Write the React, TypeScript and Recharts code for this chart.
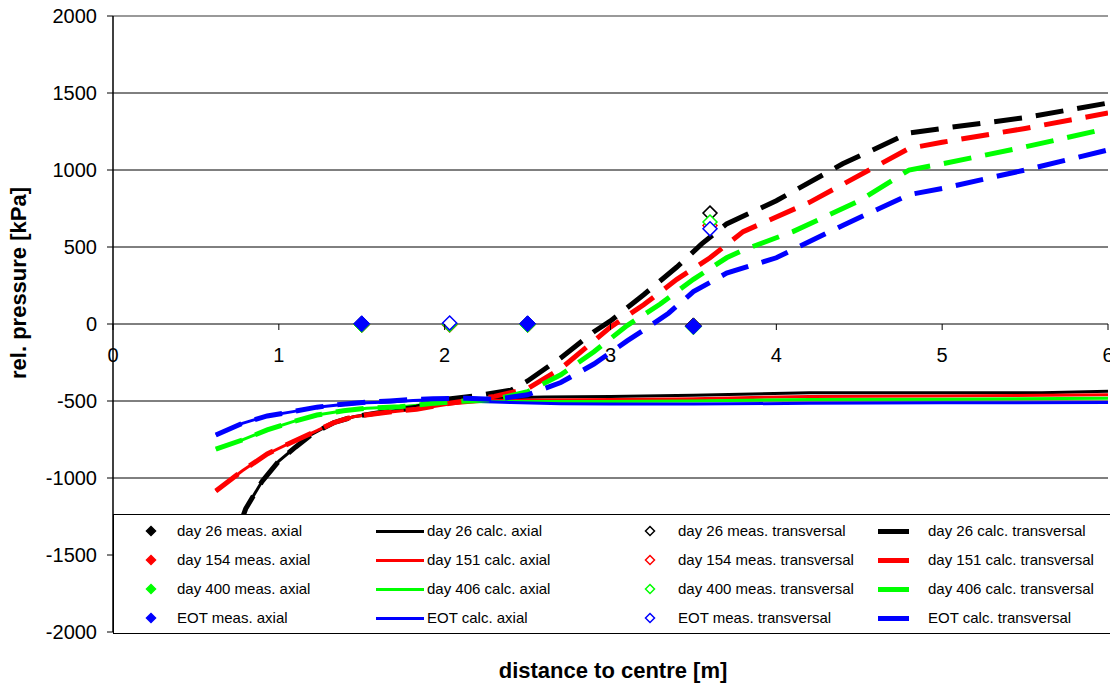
import React from "react";
import {
  ComposedChart,
  Line,
  Scatter,
  XAxis,
  YAxis,
  CartesianGrid,
  ReferenceLine,
} from "recharts";

// series colours: day 26, day 151/154, day 400/406, EOT
const colors = ["#000000", "#ff0000", "#00ff00", "#0000ff"];

const yTicks = [-2000, -1500, -1000, -500, 0, 500, 1000, 1500, 2000];
const xTicks = [0, 1, 2, 3, 4, 5, 6];

// measured, axial (filled diamonds)
const measAxialX = [1.5, 2.5, 3.5];
const measAxialDay26 = [0, 0, -12];
const measAxialDay154 = [-4, -4, -16];
const measAxialDay400 = [-4, -4, -18];
const measAxialEOT = [2, 2, -15];

// measured, transversal (hollow diamonds)
const measTransX = [2.03, 3.6];
const measTransDay26 = [0, 720];
const measTransDay154 = [-6, 640];
const measTransDay400 = [-4, 662];
const measTransEOT = [6, 618];

// calculated, axial (solid lines)
const calcAxialDay26X = [0.62, 0.7, 0.8, 0.9, 1.0, 1.1, 1.2, 1.33, 1.45, 1.63, 1.83, 2.0, 2.3, 2.6, 3.0, 3.5, 4.2, 5.0, 5.6, 6.0];
const calcAxialDay26 = [-1800, -1500, -1200, -1020, -890, -800, -715, -641, -602, -572, -545, -505, -480, -474, -470, -462, -447, -447, -446, -437];
const calcAxialDay151X = [0.62, 0.78, 0.93, 1.085, 1.23, 1.33, 1.45, 1.63, 1.83, 2.03, 2.3, 2.6, 3.0, 3.5, 4.2, 5.0, 6.0];
const calcAxialDay151 = [-1084, -953, -844, -764, -693, -641, -602, -576, -553, -519, -495, -493, -490, -485, -470, -468, -460];
const calcAxialDay406X = [0.62, 0.78, 0.93, 1.085, 1.23, 1.39, 1.53, 1.73, 1.93, 2.13, 2.4, 2.7, 3.0, 3.5, 4.2, 5.0, 6.0];
const calcAxialDay406 = [-813, -753, -688, -634, -591, -563, -547, -537, -519, -505, -503, -504, -503, -500, -490, -488, -482];
const calcAxialEOTX = [0.62, 0.78, 0.93, 1.085, 1.23, 1.37, 1.53, 1.67, 1.81, 1.93, 2.13, 2.4, 2.7, 3.0, 3.5, 4.2, 5.0, 6.0];
const calcAxialEOT = [-721, -645, -597, -569, -540, -525, -511, -506, -497, -492, -500, -510, -518, -520, -520, -515, -512, -510];

// calculated, transversal (dashed lines)
const calcTransDay26X = [0.62, 0.7, 0.8, 0.9, 1.0, 1.1, 1.2, 1.33, 1.45, 1.63, 1.83, 2.0, 2.2, 2.4, 2.5, 2.7, 2.9, 3.0, 3.2, 3.4, 3.55, 3.7, 4.0, 4.4, 4.8, 5.0, 5.5, 6.0];
const calcTransDay26 = [-1800, -1500, -1200, -1020, -890, -800, -715, -641, -602, -572, -540, -490, -465, -430, -370, -220, -50, 20, 190, 370, 520, 650, 800, 1040, 1240, 1270, 1340, 1435];
const calcTransDay151X = [0.62, 0.78, 0.93, 1.085, 1.23, 1.33, 1.45, 1.63, 1.83, 2.03, 2.3, 2.5, 2.7, 2.9, 3.0, 3.2, 3.4, 3.6, 3.8, 4.2, 4.8, 5.0, 5.5, 6.0];
const calcTransDay151 = [-1084, -953, -844, -764, -693, -641, -602, -576, -553, -515, -470, -420, -290, -110, -20, 125, 290, 430, 600, 790, 1140, 1180, 1270, 1370];
const calcTransDay406X = [0.62, 0.78, 0.93, 1.085, 1.23, 1.39, 1.53, 1.73, 1.93, 2.13, 2.3, 2.5, 2.7, 2.9, 3.1, 3.3, 3.5, 3.7, 3.8, 4.1, 4.5, 4.8, 5.0, 5.5, 6.0];
const calcTransDay406 = [-813, -753, -688, -634, -591, -563, -547, -537, -515, -500, -490, -440, -330, -180, -10, 130, 290, 430, 480, 600, 800, 1000, 1040, 1150, 1270];
const calcTransEOTX = [0.62, 0.78, 0.93, 1.085, 1.23, 1.37, 1.53, 1.67, 1.81, 1.93, 2.13, 2.3, 2.5, 2.7, 2.9, 3.1, 3.2, 3.35, 3.5, 3.7, 4.0, 4.4, 4.8, 5.0, 5.5, 6.0];
const calcTransEOT = [-721, -645, -597, -569, -540, -522, -508, -500, -490, -485, -482, -490, -460, -380, -260, -110, -40, 70, 210, 330, 430, 640, 840, 880, 1000, 1130];

const legendRows = [
  ["day 26 meas. axial", "day 26 calc. axial", "day 26 meas. transversal", "day 26 calc. transversal"],
  ["day 154 meas. axial", "day 151 calc. axial", "day 154 meas. transversal", "day 151 calc. transversal"],
  ["day 400 meas. axial", "day 406 calc. axial", "day 400 meas. transversal", "day 406 calc. transversal"],
  ["EOT meas. axial", "EOT calc. axial", "EOT meas. transversal", "EOT calc. transversal"],
];

const zip = (xs: number[], ys: number[]) => xs.map((x, i) => ({ x, y: ys[i] }));

const measAxial = [measAxialDay26, measAxialDay154, measAxialDay400, measAxialEOT].map((ys) => zip(measAxialX, ys));
const measTrans = [measTransDay26, measTransDay154, measTransDay400, measTransEOT].map((ys) => zip(measTransX, ys));
const calcAxial = [
  zip(calcAxialDay26X, calcAxialDay26),
  zip(calcAxialDay151X, calcAxialDay151),
  zip(calcAxialDay406X, calcAxialDay406),
  zip(calcAxialEOTX, calcAxialEOT),
];
const calcTrans = [
  zip(calcTransDay26X, calcTransDay26),
  zip(calcTransDay151X, calcTransDay151),
  zip(calcTransDay406X, calcTransDay406),
  zip(calcTransEOTX, calcTransEOT),
];

const FONT = "'Liberation Sans', Arial, sans-serif";
const TOP = 16;
const PLOT_H = 616;
const ZERO_Y = TOP + PLOT_H / 2;

const diamond = (color: string, filled: boolean, r: number) => (props: any) => {
  const { cx, cy } = props;
  if (cx == null || cy == null) return <g />;
  return (
    <polygon
      points={`${cx},${cy - r} ${cx + r},${cy} ${cx},${cy + r} ${cx - r},${cy}`}
      fill={filled ? color : "#fff"}
      stroke={color}
      strokeWidth={filled ? 1 : 1.5}
    />
  );
};

const XTick = ({ x, payload }: any) => (
  <g>
    <line x1={x} x2={x} y1={ZERO_Y} y2={ZERO_Y + 6} stroke="#000" strokeWidth={1} />
    <text x={x} y={ZERO_Y + 38} textAnchor="middle" fontSize={20} fontFamily={FONT} fill="#000">
      {payload.value}
    </text>
  </g>
);

const LegendMarker = ({ col, color }: { col: number; color: string }) => {
  if (col === 0 || col === 2) {
    return (
      <svg width={12} height={12} style={{ display: "block" }}>
        <polygon
          points="6,1.5 10.5,6 6,10.5 1.5,6"
          fill={col === 0 ? color : "#fff"}
          stroke={color}
          strokeWidth={1.5}
        />
      </svg>
    );
  }
  const w = col === 1 ? 48 : 31;
  const h = col === 1 ? 3 : 5;
  return <div style={{ width: w, height: h, background: color }} />;
};

const markerX = [150, 399, 649, 892];
const textX = [176, 426, 677, 927];

const App = () => {
  return (
    <div style={{ position: "absolute", left: 0, top: 0, width: 1120, height: 684, fontFamily: FONT, background: "#fff" }}>
      <ComposedChart width={1120} height={684} margin={{ top: TOP, right: 12, bottom: 0, left: 0 }}>
        <CartesianGrid horizontal vertical={false} stroke="#000" strokeWidth={1} />
        <XAxis
          dataKey="x"
          type="number"
          domain={[0, 6]}
          ticks={xTicks}
          axisLine={false}
          tickLine={false}
          height={52}
          tick={<XTick />}
          interval={0}
          allowDataOverflow
        />
        <YAxis
          dataKey="y"
          type="number"
          domain={[-2000, 2000]}
          ticks={yTicks}
          width={113}
          axisLine={{ stroke: "#000", strokeWidth: 1.5 }}
          tickLine={{ stroke: "#000" }}
          tickSize={6}
          tickMargin={10}
          tick={{ fontSize: 20, fontFamily: FONT, fill: "#000" }}
          interval={0}
          allowDataOverflow
        />
        <ReferenceLine y={2000} stroke="#999" strokeWidth={2} />
        {calcAxial.map((d, i) => (
          <Line
            key={`ca${i}`}
            data={d}
            dataKey="y"
            type="linear"
            stroke={colors[i]}
            strokeWidth={3}
            dot={false}
            activeDot={false}
            isAnimationActive={false}
          />
        ))}
        {calcTrans.map((d, i) => (
          <Line
            key={`ct${i}`}
            data={d}
            dataKey="y"
            type="linear"
            stroke={colors[i]}
            strokeWidth={5}
            strokeDasharray="28 14"
            dot={false}
            activeDot={false}
            isAnimationActive={false}
          />
        ))}
        {measAxial.map((d, i) => (
          <Scatter
            key={`ma${i}`}
            data={d}
            dataKey="y"
            shape={diamond(colors[i], true, 8)}
            isAnimationActive={false}
          />
        ))}
        {measTrans.map((d, i) => (
          <Scatter
            key={`mt${i}`}
            data={d}
            dataKey="y"
            shape={diamond(colors[i], false, 7)}
            isAnimationActive={false}
          />
        ))}
      </ComposedChart>

      {/* legend box inside the plot */}
      <div
        style={{
          position: "absolute",
          left: 113,
          top: 514,
          width: 1010,
          height: 118,
          background: "#fff",
          borderTop: "1.5px solid #000",
          borderBottom: "1.5px solid #000",
          borderLeft: "1.5px solid #000",
        }}
      >
        {legendRows.map((row, r) =>
          row.map((label, c) => (
            <React.Fragment key={`${r}-${c}`}>
              <div
                style={{
                  position: "absolute",
                  left: markerX[c] - 113 - (c === 1 ? 24 : c === 3 ? 15 : 6),
                  top: 16 + r * 29 - (c === 1 ? 1.5 : c === 3 ? 2.5 : 6),
                }}
              >
                <LegendMarker col={c} color={colors[r]} />
              </div>
              <div
                style={{
                  position: "absolute",
                  left: textX[c] - 113,
                  top: 16 + r * 29 - 9,
                  fontSize: 15,
                  lineHeight: "18px",
                  whiteSpace: "nowrap",
                  color: "#000",
                }}
              >
                {label}
              </div>
            </React.Fragment>
          ))
        )}
      </div>

      {/* axis titles */}
      <div
        style={{
          position: "absolute",
          left: 613,
          top: 671,
          transform: "translate(-50%, -50%)",
          fontSize: 22,
          fontWeight: "bold",
          whiteSpace: "nowrap",
        }}
      >
        distance to centre [m]
      </div>
      <div
        style={{
          position: "absolute",
          left: 19,
          top: 283,
          transform: "translate(-50%, -50%) rotate(-90deg)",
          fontSize: 22,
          fontWeight: "bold",
          whiteSpace: "nowrap",
        }}
      >
        rel. pressure [kPa]
      </div>
    </div>
  );
};

export default App;
